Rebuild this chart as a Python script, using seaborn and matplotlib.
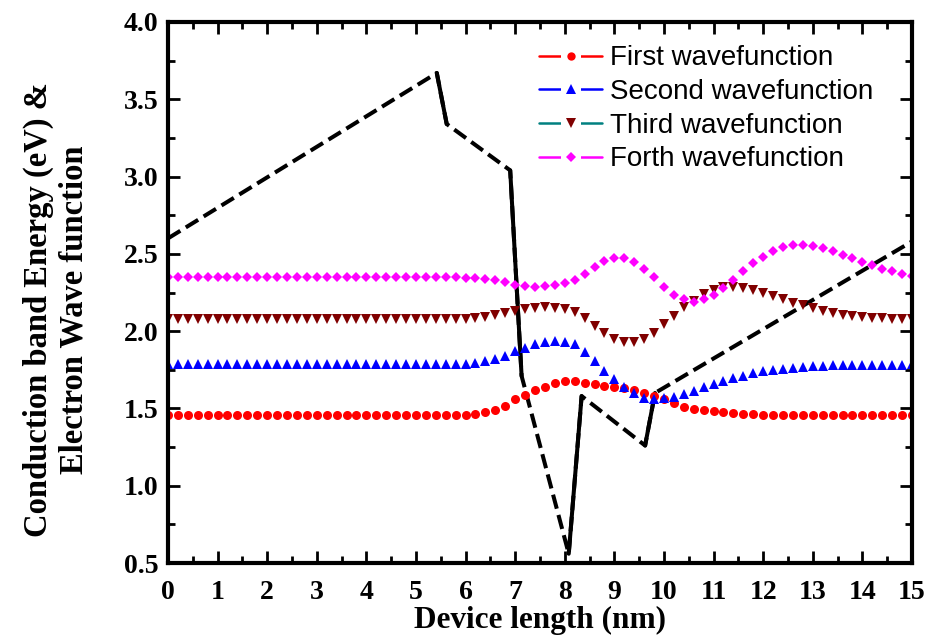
import numpy as np
import matplotlib
matplotlib.use("Agg")
import matplotlib.pyplot as plt
from matplotlib.lines import Line2D
from matplotlib.ticker import MultipleLocator, FormatStrFormatter
import seaborn as sns

# conduction band profile (black line)
band_x = [0.0, 5.42, 5.62, 6.90, 7.13, 8.08, 8.34, 9.62, 9.82, 15.0]
band_y = [2.60, 3.67, 3.34, 3.04, 1.71, 0.56, 1.58, 1.26, 1.60, 2.58]
# steep parts of the band look solid in the original
solid_segments = [(1, 2), (3, 4), (5, 6), (7, 8)]

# wavefunctions sampled every 0.2 nm from 0 to 15 nm
x_nm = np.round(np.linspace(0, 15, 76), 1)

first_wf = [1.457] * 26 + [
    1.457, 1.457, 1.457, 1.458, 1.459, 1.466, 1.477, 1.492, 1.517, 1.559,
    1.589, 1.617, 1.640, 1.664, 1.677, 1.679, 1.666, 1.656,
    1.647, 1.638, 1.630, 1.617, 1.602, 1.580, 1.559, 1.533, 1.511, 1.498,
    1.488, 1.481, 1.475, 1.470, 1.466, 1.462,
    1.460, 1.459, 1.459, 1.458, 1.458, 1.458, 1.457, 1.457, 1.457, 1.457,
    1.457, 1.457, 1.457, 1.457, 1.457, 1.456,
]
second_wf = [1.785] * 26 + [
    1.785, 1.785, 1.785, 1.787, 1.789, 1.796, 1.807, 1.818, 1.839, 1.873,
    1.893, 1.917, 1.931, 1.934, 1.931, 1.915, 1.867, 1.809,
    1.744, 1.688, 1.636, 1.598, 1.569, 1.561, 1.565, 1.576, 1.593, 1.614,
    1.636, 1.658, 1.677, 1.697, 1.710, 1.729,
    1.740, 1.748, 1.757, 1.763, 1.770, 1.772, 1.776, 1.779, 1.779, 1.780,
    1.781, 1.782, 1.783, 1.784, 1.784, 1.785,
]
third_wf = [2.076] * 26 + [
    2.076, 2.076, 2.076, 2.078, 2.080, 2.087, 2.093, 2.104, 2.115, 2.130,
    2.141, 2.149, 2.154, 2.151, 2.143, 2.122, 2.085, 2.035,
    1.986, 1.951, 1.929, 1.928, 1.949, 1.990, 2.046, 2.098, 2.154, 2.197,
    2.238, 2.266, 2.283, 2.287, 2.281, 2.266,
    2.245, 2.227, 2.208, 2.184, 2.167, 2.149, 2.130, 2.115, 2.106, 2.098,
    2.093, 2.087, 2.083, 2.080, 2.078, 2.076,
]
forth_wf = [2.352] * 26 + [
    2.352, 2.352, 2.350, 2.348, 2.343, 2.341, 2.335, 2.329, 2.316, 2.300,
    2.292, 2.287, 2.290, 2.298, 2.309, 2.331, 2.369, 2.416,
    2.455, 2.473, 2.471, 2.447, 2.404, 2.348, 2.287, 2.233, 2.206, 2.188,
    2.206, 2.232, 2.277, 2.331, 2.391, 2.442,
    2.481, 2.518, 2.542, 2.555, 2.557, 2.550, 2.536, 2.516, 2.494, 2.471,
    2.447, 2.425, 2.405, 2.390, 2.371, 2.356,
]

labels = ["First wavefunction", "Second wavefunction",
          "Third wavefunction", "Forth wavefunction"]
series = [first_wf, second_wf, third_wf, forth_wf]
markers = ["o", "^", "v", "D"]
marker_sizes = [6.5, 7.5, 7.5, 5.6]
legend_marker_sizes = [6.0, 7.0, 7.0, 5.0]
marker_colors = ["#ff0000", "#0000ff", "#800000", "#ff00ff"]
line_colors = ["#ff0000", "#0000ff", "#008080", "#ff00ff"]

sns.set_style("ticks")
plt.rcParams["font.family"] = ["Liberation Serif", "DejaVu Serif"]
plt.rcParams["text.color"] = "black"
plt.rcParams["axes.labelcolor"] = "black"
plt.rcParams["xtick.color"] = "black"
plt.rcParams["ytick.color"] = "black"

fig = plt.figure(figsize=(9.3, 6.39), dpi=100)
ax = fig.add_axes([0.1806, 0.1189, 0.80, 0.8467])

# band edge: dashed, with the steep jumps drawn solid
sns.lineplot(x=band_x, y=band_y, ax=ax, color="black", linewidth=2.9,
             estimator=None, sort=False, dashes=False, linestyle=(0, (3.6, 1.6)))
for i, j in solid_segments:
    sns.lineplot(x=[band_x[i], band_x[j]], y=[band_y[i], band_y[j]], ax=ax,
                 color="black", linewidth=2.9, estimator=None, sort=False)

for ys, m, ms, mc in zip(series, markers, marker_sizes, marker_colors):
    sns.lineplot(x=x_nm, y=ys, ax=ax, marker=m, markersize=ms, color=mc,
                 linestyle="none", markeredgewidth=0, estimator=None, sort=False)

ax.set_xlim(0, 15)
ax.set_ylim(0.5, 4.0)
ax.xaxis.set_major_locator(MultipleLocator(1))
ax.xaxis.set_minor_locator(MultipleLocator(0.5))
ax.yaxis.set_major_locator(MultipleLocator(0.5))
ax.yaxis.set_minor_locator(MultipleLocator(0.25))
ax.yaxis.set_major_formatter(FormatStrFormatter("%.1f"))

ax.tick_params(which="both", direction="in", top=True, right=True, width=2, color="black")
ax.tick_params(which="major", length=8.5)
ax.tick_params(which="minor", length=5)
ax.tick_params(axis="x", which="major", pad=12)
ax.tick_params(axis="y", which="major", pad=7)
for lab in ax.get_xticklabels() + ax.get_yticklabels():
    lab.set_fontsize(20)
    lab.set_fontweight("bold")
for sp in ax.spines.values():
    sp.set_linewidth(3)
    sp.set_color("black")

ax.set_xlabel("Device length (nm)", fontsize=22.5, fontweight="bold", labelpad=1)
ax.set_ylabel("Conduction band Energy (eV) &\nElectron Wave function",
              fontsize=23.5, fontweight="bold", linespacing=1.2,
              multialignment="center")
ax.yaxis.set_label_coords(-0.105, 0.468)

# legend entries: line, white gap, then the marker on top
handles = []
for m, ms, mc, lc in zip(markers, legend_marker_sizes, marker_colors, line_colors):
    seg = Line2D([], [], color=lc, lw=1.8)
    gap = Line2D([], [], linestyle="none", marker="s", markersize=15,
                 markerfacecolor="white", markeredgewidth=0)
    dot = Line2D([], [], linestyle="none", marker=m, markersize=ms,
                 markerfacecolor=mc, markeredgewidth=0)
    handles.append((seg, gap, dot))

leg = ax.legend(handles, labels, loc="upper left", bbox_to_anchor=(0.4726, 0.9926),
                frameon=False, numpoints=1, handlelength=2.27, handletextpad=0.29,
                labelspacing=0.275, borderaxespad=0.3,
                prop={"family": ["Liberation Sans", "DejaVu Sans"], "size": 20})

fig.savefig("out.png", dpi=100)
